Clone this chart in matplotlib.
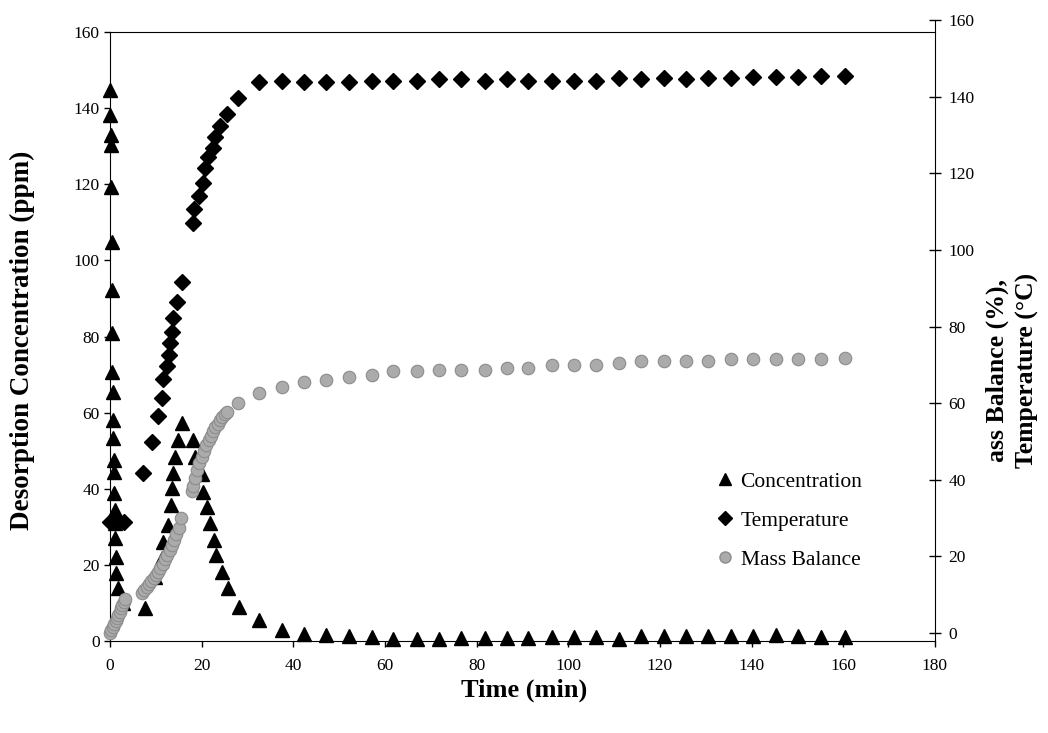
import matplotlib.pyplot as plt
from matplotlib.lines import Line2D

plt.rcParams['font.family'] = ['Liberation Serif', 'DejaVu Serif']

# Concentration (ppm, left axis)
conc_t = [0.0, 0.0, 0.2, 0.2, 0.3, 0.4, 0.4, 0.5, 0.5, 0.6, 0.6, 0.7, 0.8, 0.8,
          0.9, 1.0, 1.0, 1.1, 1.2, 1.4, 1.7, 2.8,
          7.6, 9.8, 11.3, 11.6, 12.7, 13.3, 13.5, 13.8, 14.2, 14.8, 15.7,
          18.1, 18.5, 20.1, 20.3, 21.2, 21.8, 22.7, 23.1, 24.4, 25.7, 28.1,
          32.5, 37.5, 42.3, 47.1, 52.1, 57.2, 61.7, 67.0, 71.8, 76.6, 81.8,
          86.6, 91.2, 96.4, 101.2, 106.0, 111.1, 115.9, 120.8, 125.7, 130.6,
          135.5, 140.4, 145.3, 150.2, 155.1, 160.3]
conc = [144.8, 138.2, 132.9, 130.3, 119.3, 104.8, 92.2, 80.9, 70.7, 65.4, 58.1,
        53.3, 47.6, 44.4, 38.9, 34.4, 31.0, 27.1, 22.1, 17.9, 13.9, 10.0,
        8.8, 16.8, 21.8, 26.0, 30.5, 35.7, 40.2, 44.1, 48.3, 52.8, 57.3,
        52.8, 48.3, 43.9, 39.1, 35.2, 31.0, 26.5, 22.6, 18.1, 13.9, 8.9,
        5.5, 3.0, 1.8, 1.5, 1.2, 1.0, 0.6, 0.6, 0.6, 0.8, 0.8,
        0.9, 0.9, 1.0, 1.0, 1.0, 0.6, 1.2, 1.2, 1.2, 1.2,
        1.4, 1.4, 1.5, 1.2, 1.1, 1.1]

# Temperature (deg C, right axis)
temp_t = [0.0, 1.0, 2.0, 3.0, 7.2, 9.2, 10.5, 11.3, 11.6, 12.4, 12.9, 13.1,
          13.5, 13.8, 14.6, 15.7,
          18.1, 18.3, 19.4, 20.3, 20.7, 21.4, 22.5, 22.9, 24.0, 25.5, 27.9,
          32.5, 37.5, 42.3, 47.1, 52.1, 57.2, 61.7, 67.0, 71.8, 76.6, 81.8,
          86.6, 91.2, 96.4, 101.2, 106.0, 111.1, 115.9, 120.8, 125.7, 130.6,
          135.5, 140.4, 145.3, 150.2, 155.1, 160.3]
temp = [29.0, 29.0, 29.0, 29.0, 41.8, 49.9, 56.7, 61.4, 66.3, 69.7, 72.6, 75.7,
        78.6, 82.2, 86.3, 91.6,
        107.0, 110.7, 114.1, 117.5, 121.4, 124.3, 126.6, 129.5, 132.4, 135.5, 139.7,
        143.7, 144.2, 143.7, 143.7, 143.7, 144.0, 144.0, 144.0, 144.6, 144.6, 144.0,
        144.6, 144.0, 144.2, 144.2, 144.2, 144.9, 144.6, 144.9, 144.6, 144.9,
        144.9, 145.2, 145.2, 145.2, 145.5, 145.5]

# Mass balance (%, right axis)
mass_t = [0.0, 0.3, 0.6, 0.9, 1.2, 1.5, 1.8, 2.1, 2.4, 2.7, 3.0, 3.3,
          7.0, 7.5, 8.0, 8.5, 9.0, 9.5, 10.0, 10.5, 11.0, 11.5, 12.0, 12.5,
          13.0, 13.5, 14.0, 14.5, 15.0, 15.5,
          17.8, 18.0, 18.5, 19.0, 19.5, 20.0, 20.5, 21.0, 21.5, 22.0, 22.5,
          23.0, 23.5, 24.0, 24.5, 25.0, 25.5, 27.9,
          32.5, 37.5, 42.3, 47.1, 52.1, 57.2, 61.7, 67.0, 71.8, 76.6, 81.8,
          86.6, 91.2, 96.4, 101.2, 106.0, 111.1, 115.9, 120.8, 125.7, 130.6,
          135.5, 140.4, 145.3, 150.2, 155.1, 160.3]
mass = [0.0, 0.8, 1.6, 2.4, 3.2, 4.0, 4.8, 5.6, 6.4, 7.2, 8.0, 9.0,
        10.5, 11.3, 12.0, 12.7, 13.5, 14.3, 15.2, 16.0, 17.0, 18.0, 19.2, 20.4,
        21.7, 23.0, 24.4, 25.8, 27.5, 30.0,
        37.0, 38.5, 40.5, 42.5, 44.3, 46.0, 47.5, 49.0, 50.3, 51.5, 52.6,
        53.7, 54.6, 55.5, 56.3, 57.1, 57.8, 60.1,
        62.6, 64.3, 65.6, 66.1, 66.8, 67.4, 68.3, 68.3, 68.7, 68.7, 68.7,
        69.1, 69.1, 70.0, 70.0, 70.0, 70.5, 70.9, 70.9, 70.9, 70.9, 71.5,
        71.5, 71.5, 71.5, 71.5, 71.8]

fig = plt.figure(figsize=(10.48, 7.33), dpi=100)
ax = fig.add_axes([0.105, 0.1255, 0.787, 0.8308])
ax2 = fig.add_axes([0.105, 0.1255, 0.787, 0.8472])

ax.plot(conc_t, conc, linestyle='none', marker='^', ms=9.5, color='black',
        zorder=3, clip_on=False)
ax.set_xlim(0, 180)
ax.set_ylim(0, 160)
ax.set_xticks(range(0, 181, 20))
ax.set_yticks(range(0, 161, 20))
ax.spines['right'].set_visible(False)
ax.tick_params(axis='both', labelsize=12.5, direction='out', length=4, width=1)
ax.tick_params(axis='x', pad=8)

ax2.patch.set_visible(False)
ax2.plot(mass_t, mass, linestyle='none', marker='o', ms=9, color='#ababab',
         markeredgecolor='#8c8c8c', markeredgewidth=0.8, zorder=2, clip_on=False)
ax2.plot(temp_t, temp, linestyle='none', marker='D', ms=8, color='black',
         zorder=3, clip_on=False)
ax2.set_xlim(0, 180)
ax2.set_ylim(-2.09, 160)
ax2.set_yticks(range(0, 161, 20))
for s in ['left', 'top', 'bottom']:
    ax2.spines[s].set_visible(False)
ax2.xaxis.set_visible(False)
ax2.yaxis.tick_right()
ax2.tick_params(axis='y', labelsize=12.5, direction='inout', length=8, width=1, pad=6)

# axis titles
fig.text(524 / 1048, 1 - 690 / 733, 'Time (min)', fontsize=19, fontweight='bold',
         ha='center', va='center')
fig.text(22 / 1048, 1 - 340 / 733, 'Desorption Concentration (ppm)', fontsize=19.5,
         fontweight='bold', rotation=90, ha='center', va='center')
fig.text(1012 / 1048, 1 - 370 / 733, 'ass Balance (%),\nTemperature (°C)',
         fontsize=18.5, fontweight='bold', rotation=90, ha='center', va='center',
         linespacing=1.35)

handles = [
    Line2D([], [], linestyle='none', marker='^', ms=8, color='black'),
    Line2D([], [], linestyle='none', marker='D', ms=7, color='black'),
    Line2D([], [], linestyle='none', marker='o', ms=8, color='#ababab',
           markeredgecolor='#8c8c8c'),
]
ax2.legend(handles, ['Concentration', 'Temperature', 'Mass Balance'],
           loc='upper left', bbox_to_anchor=(0.707, 0.304), frameon=False,
           fontsize=15.5, handletextpad=0.1, labelspacing=0.88, handlelength=1.2)

fig.savefig('out.png', dpi=100)
